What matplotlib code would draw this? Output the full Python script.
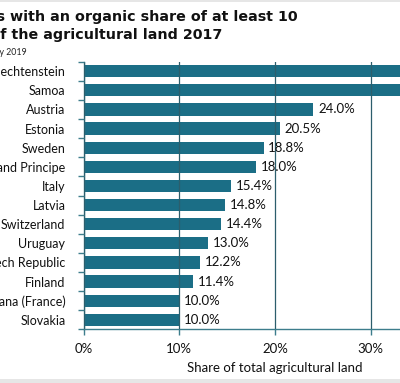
import matplotlib
matplotlib.use("Agg")
import matplotlib.pyplot as plt
from matplotlib.patches import Rectangle

countries = ["Liechtenstein", "Samoa", "Austria", "Estonia", "Sweden",
             "Sao Tome and Principe", "Italy", "Latvia", "Switzerland",
             "Uruguay", "Czech Republic", "Finland", "French Guiana (France)",
             "Slovakia"]
shares = [37.9, 37.6, 24.0, 20.5, 18.8, 18.0, 15.4, 14.8, 14.4, 13.0, 12.2,
          11.4, 10.0, 10.0]
xticks = [0, 10, 20, 30]
xticklabels = ["0%", "10%", "20%", "30%"]

title_line1 = "Countries with an organic share of at least 10"
title_line2 = "percent of the agricultural land 2017"
subtitle = "Source: FiBL survey 2019"
xlabel = "Share of total agricultural land"

plt.rcParams['font.family'] = ['Lato', 'DejaVu Sans']

W, H = 400, 383
fig = plt.figure(figsize=(W / 100, H / 100), dpi=100)
fig.patch.set_facecolor("white")

ax = fig.add_axes([83.5 / W, 1 - 329.3 / H, 383 / W, (329.3 - 61.7) / H])

bar_color = "#1b6e86"
spine_color = "#3d7d8c"
grid_color = "#2c5e6c"
text_color = "#111111"

ypos = list(range(len(countries)))
ax.barh(ypos, shares, height=0.64, color=bar_color, zorder=2)
ax.set_ylim(len(countries) - 0.5, -0.5)
ax.set_xlim(0, 40)

ax.set_yticks(ypos)
ax.set_yticklabels(countries, fontsize=9.0, color=text_color)
ax.tick_params(axis="y", length=0, pad=13)
ax.set_yticks([y + 0.5 for y in ypos] + [-0.5], minor=True)
ax.tick_params(axis="y", which="minor", length=4.5, color=spine_color, width=1)

ax.set_xticks(xticks)
ax.set_xticklabels(xticklabels, fontsize=9.5, color=text_color)
ax.tick_params(axis="x", length=4, color=spine_color, width=1, pad=6)
ax.xaxis.grid(True, color=grid_color, linewidth=0.9, zorder=3)
ax.set_axisbelow(False)

for s in ["top", "right"]:
    ax.spines[s].set_visible(False)
for s in ["left", "bottom"]:
    ax.spines[s].set_color(spine_color)
    ax.spines[s].set_linewidth(1)

# value labels (the two largest fall outside the visible crop, as in the reference)
for y, v in zip(ypos, shares):
    if v < 32:
        ax.text(v + 0.5, y, f"{v:.1f}%", va="center", ha="left", fontsize=9.5,
                color=text_color, zorder=4)

ax.set_xlabel(xlabel, fontsize=9.5, color=text_color, labelpad=5)

title_font = dict(family="DejaVu Sans", fontweight="bold", fontsize=10.3,
                  color=text_color, va="baseline", ha="right")
fig.text(298 / W, 1 - 20.7 / H, title_line1, **title_font)
fig.text(222 / W, 1 - 39.3 / H, title_line2, **title_font)
fig.text(27 / W, 1 - 55 / H, subtitle, ha="right", va="baseline", fontsize=6.3,
         color="#222222")

fig.patches.append(Rectangle((0, 0), 1, 4 / H, transform=fig.transFigure,
                             facecolor="#e6e6e6", edgecolor="none"))
fig.patches.append(Rectangle((0, 1 - 2 / H), 1, 2 / H, transform=fig.transFigure,
                             facecolor="#e6e6e6", edgecolor="none"))

fig.savefig("out.png", dpi=100)
